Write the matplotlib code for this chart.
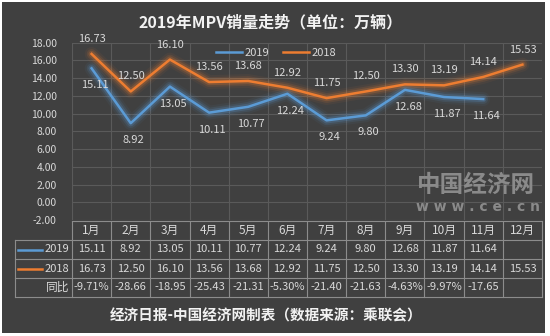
import numpy as np
import matplotlib
matplotlib.use('Agg')
import matplotlib.pyplot as plt
from matplotlib.patches import Rectangle
from matplotlib.lines import Line2D
import matplotlib.transforms as mtransforms

plt.rcParams['font.family'] = ['Noto Sans CJK SC', 'DejaVu Sans']

months = ['1月', '2月', '3月', '4月', '5月', '6月', '7月', '8月', '9月', '10月', '11月', '12月']
sales_2019 = [15.11, 8.92, 13.05, 10.11, 10.77, 12.24, 9.24, 9.80, 12.68, 11.87, 11.64]
sales_2018 = [16.73, 12.50, 16.10, 13.56, 13.68, 12.92, 11.75, 12.50, 13.30, 13.19, 14.14, 15.53]
yoy = ['-9.71%', '-28.66', '-18.95', '-25.43', '-21.31', '-5.30%', '-21.40',
       '-21.63', '-4.63%', '-9.97%', '-17.65', '']

BG = '#404040'
GRID = '#5a5a5a'
TXT = '#d9d9d9'
BLUE = '#5b9bd5'
ORANGE = '#ed7d31'
W, H = 550, 336

fig = plt.figure(figsize=(5.5, 3.36), dpi=100, facecolor='white')

def fx(px):
    return px / W

def fy(py):
    return 1 - py / H

# dark chart area inside white border
fig.patches.append(Rectangle((fx(2), fy(333)), fx(543), 331 / H,
                             transform=fig.transFigure, facecolor=BG,
                             edgecolor='none', zorder=-10))

ax = fig.add_axes([fx(72), fy(220), fx(470), 177.3 / H])
ax.patch.set_alpha(0)
ax.set_xlim(-0.5, 11.5)
ax.set_ylim(-2, 18)
for s in ax.spines.values():
    s.set_visible(False)
ax.set_yticks(np.arange(-2, 18.1, 2))
ax.set_yticklabels(['%.2f' % v for v in np.arange(-2, 18.1, 2)])
ax.tick_params(axis='y', length=0, pad=11, labelsize=7.5, labelcolor=TXT)
ax.set_xticks([])
for v in np.arange(-2, 18.1, 2):
    ax.axhline(v, color=GRID, lw=0.8, zorder=1)
for v in np.arange(-0.5, 11.6, 1):
    ax.axvline(v, color=GRID, lw=0.8, zorder=1)

x19 = np.arange(len(sales_2019))
x18 = np.arange(len(sales_2018))

# glow
for lw, a in [(10, 0.06), (7, 0.12), (4.5, 0.22)]:
    ax.plot(x18, sales_2018, color=ORANGE, lw=lw, alpha=a, solid_capstyle='round', zorder=2)
    ax.plot(x19, sales_2019, color=BLUE, lw=lw, alpha=a, solid_capstyle='round', zorder=2)
ax.plot(x18, sales_2018, color=ORANGE, lw=1.8, zorder=3)
ax.plot(x19, sales_2019, color=BLUE, lw=1.8, zorder=3)

for x, v in zip(x18, sales_2018):
    ax.annotate('%.2f' % v, (x, v), xytext=(0, 15), textcoords='offset pixels',
                ha='center', va='center', fontsize=8, color=TXT, zorder=4)
for x, v in zip(x19, sales_2019):
    ax.annotate('%.2f' % v, (x, v), xytext=(3, -17), textcoords='offset pixels',
                ha='center', va='center', fontsize=8, color=TXT, zorder=4)

# legend
fig.legend([Line2D([], [], color=BLUE, lw=1.8), Line2D([], [], color=ORANGE, lw=1.8)],
           ['2019', '2018'], loc='center', bbox_to_anchor=(fx(276), fy(53)),
           ncol=2, frameon=False, handlelength=2.4, handletextpad=0.2,
           columnspacing=1.2, labelcolor=TXT, prop={'size': 8})

# data table
TL = '#8c8c8c'
tr = mtransforms.blended_transform_factory(ax.transData, fig.transFigure)
rows = [221, 240, 259, 278, 297]
fig.add_artist(Line2D([fx(72), fx(542)], [fy(221), fy(221)], color=TL, lw=0.8,
                      transform=fig.transFigure))
for r in rows[1:]:
    fig.add_artist(Line2D([fx(15), fx(542)], [fy(r), fy(r)], color=TL, lw=0.8,
                          transform=fig.transFigure))
fig.add_artist(Line2D([fx(15), fx(15)], [fy(240), fy(297)], color=TL, lw=0.8,
                      transform=fig.transFigure))
for v in np.arange(-0.5, 11.6, 1):
    ax.add_artist(Line2D([v, v], [fy(221), fy(297)], color=TL, lw=0.8,
                         transform=tr, clip_on=False))

def row_y(i):
    return fy((rows[i] + rows[i + 1]) / 2)

for i, m in enumerate(months):
    ax.text(i, row_y(0), m, transform=tr, ha='center', va='center',
            fontsize=8.5, color=TXT, clip_on=False)
for i, v in enumerate(sales_2019):
    ax.text(i, row_y(1), '%.2f' % v, transform=tr, ha='center', va='center',
            fontsize=8, color=TXT, clip_on=False)
for i, v in enumerate(sales_2018):
    ax.text(i, row_y(2), '%.2f' % v, transform=tr, ha='center', va='center',
            fontsize=8, color=TXT, clip_on=False)
for i, v in enumerate(yoy):
    ax.text(i, row_y(3), v, transform=tr, ha='center', va='center',
            fontsize=8, color=TXT, clip_on=False)

for i, (lab, col) in enumerate([('2019', BLUE), ('2018', ORANGE)]):
    fig.add_artist(Line2D([fx(18), fx(42)], [row_y(i + 1)] * 2, color=col, lw=1.8,
                          transform=fig.transFigure))
    fig.text(fx(69), row_y(i + 1), lab, ha='right', va='center', fontsize=8, color=TXT)
fig.text(fx(69), row_y(3), '同比', ha='right', va='center', fontsize=8.5, color=TXT)

# titles
fig.text(fx(271), fy(22), '2019年MPV销量走势（单位：万辆）', ha='center', va='center',
         fontsize=11.5, fontweight='bold', color='#f2f2f2')
fig.text(fx(266), fy(315), '经济日报-中国经济网制表（数据来源：乘联会）', ha='center',
         va='center', fontsize=10.5, fontweight='bold', color='#f2f2f2')

# watermark
fig.text(fx(476), fy(185), '中国经济网', ha='center', va='center', fontsize=17,
         fontweight='bold', color='#8a8a8a')
fig.text(fx(478), fy(207), 'w w w . c e . c n', ha='center', va='center', fontsize=10,
         fontweight='bold', color='#8a8a8a', family='DejaVu Sans')

fig.savefig('out.png', dpi=100, facecolor='white')
